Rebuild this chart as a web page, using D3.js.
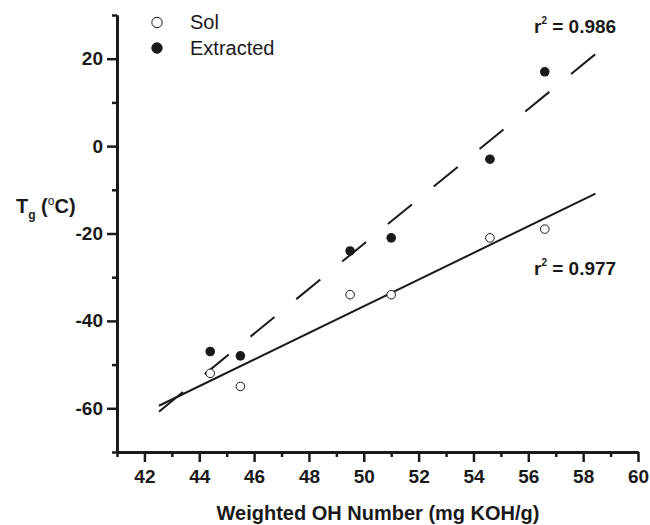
<!DOCTYPE html>
<html>
<head>
<meta charset="utf-8">
<script src="https://cdn.jsdelivr.net/npm/d3@7"></script>
<style>
  body { margin: 0; background: #fff; }
  svg { display: block; font-family: "Liberation Sans", Arial, sans-serif; }
</style>
</head>
<body>
<svg id="chart" width="650" height="525"></svg>
<script>
// ---- data ----
const ohNumber = [44.4, 45.5, 49.5, 51.0, 54.6, 56.6];
const solTg = [-52, -55, -34, -34, -21, -19];
const extractedTg = [-47, -48, -24, -21, -3, 17];
const seriesNames = ["Sol", "Extracted"];
const r2Values = ["0.977", "0.986"];
const fitXRange = [42.53, 58.45];
const xMajorTicks = [42, 44, 46, 48, 50, 52, 54, 56, 58, 60];
const xMinorTicks = [41, 43, 45, 47, 49, 51, 53, 55, 57, 59];
const yMajorTicks = [-60, -40, -20, 0, 20];
const yMinorTicks = [-70, -50, -30, -10, 10, 30];

const svg = d3.select("#chart");
const ink = "#1a1a1a";
const FONT = "'Liberation Sans', Arial, sans-serif";

const x = d3.scaleLinear().domain([41, 60]).range([117, 638]);
const y = d3.scaleLinear().domain([-70, 30]).range([452, 15]);

function linFit(xs, ys) {
  const mx = d3.mean(xs), my = d3.mean(ys);
  let sxy = 0, sxx = 0;
  xs.forEach((v, i) => { sxy += (v - mx) * (ys[i] - my); sxx += (v - mx) * (v - mx); });
  const b = sxy / sxx, a = my - b * mx;
  return v => a + b * v;
}

// ---- fit lines ----
const line = d3.line().x(d => x(d[0])).y(d => y(d[1]));
const fSol = linFit(ohNumber, solTg);
const fExt = linFit(ohNumber, extractedTg);
svg.append("path")
  .attr("d", line(fitXRange.map(v => [v, fSol(v)])))
  .attr("fill", "none").attr("stroke", ink).attr("stroke-width", 2);
svg.append("path")
  .attr("d", line(fitXRange.map(v => [v, fExt(v)])))
  .attr("fill", "none").attr("stroke", ink).attr("stroke-width", 2)
  .attr("stroke-dasharray", "31,28.2");

// ---- points ----
svg.append("g").selectAll("circle").data(ohNumber.map((v, i) => [v, solTg[i]]))
  .join("circle").attr("cx", d => x(d[0])).attr("cy", d => y(d[1])).attr("r", 4.3)
  .attr("fill", "#fff").attr("stroke", ink).attr("stroke-width", 1);
svg.append("g").selectAll("circle").data(ohNumber.map((v, i) => [v, extractedTg[i]]))
  .join("circle").attr("cx", d => x(d[0])).attr("cy", d => y(d[1])).attr("r", 4.8)
  .attr("fill", ink);

// ---- axes ----
function styleAxis(g) {
  g.attr("font-family", null).attr("font-size", null);
  g.select(".domain").attr("stroke", ink).attr("stroke-width", 3);
  g.selectAll(".tick line").attr("stroke", ink).attr("stroke-width", 2.5);
  g.selectAll(".tick text").attr("fill", ink)
    .style("font-size", "19px").style("font-weight", "bold").style("font-family", FONT);
}
const fmt = d => String(d);
const xAxisG = svg.append("g").attr("transform", "translate(0,452)")
  .call(d3.axisBottom(x).tickValues(xMajorTicks).tickSize(10).tickSizeOuter(0).tickPadding(8).tickFormat(fmt));
styleAxis(xAxisG);
const xMinorG = svg.append("g").attr("transform", "translate(0,452)")
  .call(d3.axisBottom(x).tickValues(xMinorTicks).tickSize(5).tickSizeOuter(0).tickFormat(""));
styleAxis(xMinorG);
const yAxisG = svg.append("g").attr("transform", "translate(117,0)")
  .call(d3.axisLeft(y).tickValues(yMajorTicks).tickSize(10).tickSizeOuter(0).tickPadding(4).tickFormat(fmt));
styleAxis(yAxisG);
const yMinorG = svg.append("g").attr("transform", "translate(117,0)")
  .call(d3.axisLeft(y).tickValues(yMinorTicks).tickSize(5).tickSizeOuter(0).tickFormat(""));
styleAxis(yMinorG);

// ---- axis titles ----
svg.append("text").attr("x", 378).attr("y", 520).attr("text-anchor", "middle")
  .style("font-size", "20px").style("font-weight", "bold").style("font-family", FONT).attr("fill", ink)
  .text("Weighted OH Number (mg KOH/g)");
const yt = svg.append("text").attr("x", 16).attr("y", 213)
  .style("font-size", "20px").style("font-weight", "bold").style("font-family", FONT).attr("fill", ink);
yt.append("tspan").text("T");
yt.append("tspan").attr("dy", 6).style("font-size", "12px").text("g");
yt.append("tspan").attr("dy", -6).text(" (");
yt.append("tspan").attr("dy", -8).style("font-size", "12px").style("font-weight", "normal").text("o");
yt.append("tspan").attr("dy", 8).text("C)");

// ---- legend ----
const legend = svg.append("g");
seriesNames.forEach((name, i) => {
  const cy = 22.5 + i * 25.5;
  legend.append("circle").attr("cx", 157).attr("cy", cy).attr("r", 5.2)
    .attr("fill", i === 0 ? "#fff" : ink).attr("stroke", ink).attr("stroke-width", 1);
  legend.append("text").attr("x", 190).attr("y", cy + 6.5)
    .style("font-size", "20px").style("font-family", FONT).attr("fill", ink).text(name);
});

// ---- r² annotations ----
function r2Label(xp, yp, val) {
  const t = svg.append("text").attr("x", xp).attr("y", yp)
    .style("font-size", "19px").style("font-weight", "bold").style("font-family", FONT).attr("fill", ink);
  t.append("tspan").text("r");
  t.append("tspan").attr("dy", -9).style("font-size", "10px").text("2");
  t.append("tspan").attr("dy", 9).text(" = " + val);
}
r2Label(534, 33, r2Values[1]);
r2Label(534, 275, r2Values[0]);
</script>
</body>
</html>
